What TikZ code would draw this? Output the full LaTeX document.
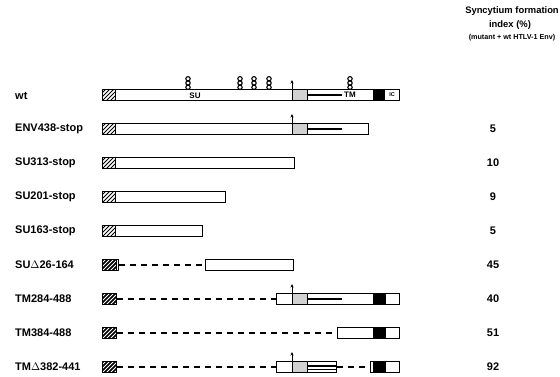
\documentclass[tikz,border=0pt]{standalone}
\usepackage{fontspec}
\setmainfont{Liberation Sans}
\usetikzlibrary{arrows.meta}
\tikzset{
  bar/.style={draw, line width=1.1pt, fill=white, inner sep=0pt, minimum height=11pt, anchor=west},
  hatchw/.style={draw, line width=1.1pt, fill=white, inner sep=0pt, minimum height=11pt, minimum width=13pt, anchor=west,
    path picture={\foreach \k in {-12,-8,...,12}{\draw[line width=0.9pt] ([xshift=\k pt]path picture bounding box.south west) -- ++(15pt,15pt);}}},
  hatchb/.style={draw, line width=1.1pt, fill=black, inner sep=0pt, minimum height=11pt, minimum width=14pt, anchor=west,
    path picture={\foreach \k in {-12,-8,...,12}{\draw[white, line width=0.9pt] ([xshift=\k pt]path picture bounding box.south west) -- ++(15pt,15pt);}}},
  lab/.style={font=\bfseries\fontsize{11}{12}\selectfont, anchor=west, inner sep=0pt},
  num/.style={font=\bfseries\fontsize{11}{12}\selectfont, inner sep=0pt},
  head/.style={font=\bfseries\fontsize{9.4}{11}\selectfont, inner sep=0pt},
  subhead/.style={font=\bfseries\fontsize{7.2}{9}\selectfont, inner sep=0pt},
  gap/.style={line width=1.1pt, dash pattern=on 6pt off 5pt},
  tmline/.style={line width=1.6pt},
  thinline/.style={line width=0.8pt},
  fus/.style={draw, line width=0.8pt, fill=black!18},
  blk/.style={fill=black},
  cut/.style={line width=0.9pt, -{Stealth[length=3.5pt,width=3pt]}},
  gly/.style={line width=1.1pt},
}
\newcommand{\glycan}[2]{%
  \draw[gly] (#1,#2-2.2) ellipse (2.2 and 2.1);
  \draw[gly] (#1,#2-6.5) ellipse (2.2 and 2.1);
  \draw[gly] (#1,#2-10.8) ellipse (2.2 and 2.1);}
\begin{document}
\begin{tikzpicture}[x=1pt,y=-1pt]
\useasboundingbox (0,0) rectangle (560,376);
% header
\node[head] (h1) at (512,11) {Syncytium formation};
\node[head] (h2) at (510,25) {index (\%)};
\node[subhead] (h3) at (512,38) {(mutant + wt HTLV-1 Env)};

% row 1: wt
\node[lab] (l1) at (15,96) {wt};
\node[bar, minimum width=297pt] (r1) at (102,95) {};
\fill[fus] (292,89.5) rectangle (307,100.5);
\draw[tmline] (307,95) -- (342,95);
\node[font=\bfseries\fontsize{8}{9}\selectfont, inner sep=0pt] (su1) at (195,96) {SU};
\node[font=\bfseries\fontsize{8}{9}\selectfont, inner sep=0pt] (tm1) at (350,95) {TM};
\fill[blk] (373,89.5) rectangle (385,100.5);
\node[font=\bfseries\fontsize{5.5}{6}\selectfont, inner sep=0pt] (ic1) at (392,95) {IC};
\node[hatchw] (hw1) at (102,95) {};
\draw[cut] (292,89.5) -- (292,80);
\glycan{188}{89.5}
\glycan{240}{89.5}
\glycan{254}{89.5}
\glycan{269}{89.5}
\glycan{350}{89.5}

% row 2: ENV438-stop
\node[lab] (l2) at (15,129) {ENV438-stop};
\node[bar, minimum width=266pt] (r2) at (102,129) {};
\fill[fus] (292,123.5) rectangle (307,134.5);
\draw[tmline] (307,129) -- (342,129);
\node[hatchw] (hw2) at (102,129) {};
\draw[cut] (292,123.5) -- (292,114);
\node[num] (n2) at (493,129) {5};

% row 3: SU313-stop
\node[lab] (l3) at (15,163) {SU313-stop};
\node[bar, minimum width=191.5pt] (r3) at (102,163) {};
\node[hatchw] (hw3) at (102,163) {};
\node[num] (n3) at (493,163) {10};

% row 4: SU201-stop
\node[lab] (l4) at (15,197) {SU201-stop};
\node[bar, minimum width=123pt] (r4) at (102,197) {};
\node[hatchw] (hw4) at (102,197) {};
\node[num] (n4) at (493,197) {9};

% row 5: SU163-stop
\node[lab] (l5) at (15,231) {SU163-stop};
\node[bar, minimum width=100pt] (r5) at (102,231) {};
\node[hatchw] (hw5) at (102,231) {};
\node[num] (n5) at (493,231) {5};

% row 6: SU delta 26-164
\node[lab] (l6) at (15,265) {SU$\Delta$26-164};
\node[bar, minimum width=16pt] (s6) at (102,265) {};
\node[hatchb] (hb6) at (102,265) {};
\node[bar, minimum width=88pt] (r6) at (205,265) {};
\draw[gap] (s6.east) -- (r6.west);
\node[num] (n6) at (493,265) {45};

% row 7: TM284-488
\node[lab] (l7) at (15,299) {TM284-488};
\node[hatchb] (hb7) at (102,299) {};
\node[bar, minimum width=123pt] (r7) at (276,299) {};
\fill[fus] (292,293.5) rectangle (307,304.5);
\draw[tmline] (307,299) -- (342,299);
\fill[blk] (373,293.5) rectangle (386,304.5);
\draw[gap] (hb7.east) -- (r7.west);
\draw[cut] (292,293.5) -- (292,284);
\node[num] (n7) at (493,299) {40};

% row 8: TM384-488
\node[lab] (l8) at (15,333) {TM384-488};
\node[hatchb] (hb8) at (102,333) {};
\node[bar, minimum width=62pt] (r8) at (337,333) {};
\fill[blk] (373,327.5) rectangle (386,338.5);
\draw[gap] (hb8.east) -- (r8.west);
\node[num] (n8) at (493,333) {51};

% row 9: TM delta 382-441
\node[lab] (l9) at (15,367) {TM$\Delta$382-441};
\node[hatchb] (hb9) at (102,367) {};
\node[bar, minimum width=60pt] (r9) at (276,367) {};
\fill[fus] (292,361.5) rectangle (307,372.5);
\draw[tmline] (307,366) -- (336,366);
\draw[thinline] (307,369.5) -- (336,369.5);
\node[bar, minimum width=29pt] (t9) at (370,367) {};
\fill[blk] (373,361.5) rectangle (386,372.5);
\draw[gap] (hb9.east) -- (r9.west);
\draw[gap] (r9.east) -- (t9.west);
\draw[cut] (292,361.5) -- (292,352);
\node[num] (n9) at (493,367) {92};
\end{tikzpicture}
\end{document}
